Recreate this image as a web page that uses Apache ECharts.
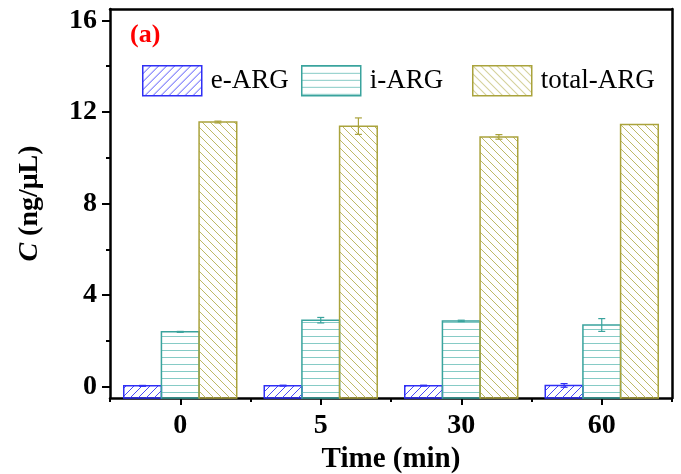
<!DOCTYPE html>
<html>
<head>
<meta charset="utf-8">
<script src="https://cdn.jsdelivr.net/npm/echarts@6/dist/echarts.min.js"></script>
<style>
html,body{margin:0;padding:0;background:#fff;}
#chart{width:681px;height:474px;}
</style>
</head>
<body>
<div id="chart"></div>
<script>
// ---- data ----
const categories = ['0', '5', '30', '60'];
const seriesNames = ['e-ARG', 'i-ARG', 'total-ARG'];
const eARG = [0.03, 0.04, 0.04, 0.05];
const eARG_err = [0.02, 0.02, 0.02, 0.08];
const iARG = [2.39, 2.90, 2.87, 2.69];
const iARG_err = [0.02, 0.12, 0.03, 0.28];
const totalARG = [11.56, 11.38, 10.91, 11.45];
const totalARG_err = [0.04, 0.36, 0.10, 0.00];
const yMajorTicks = [0, 4, 8, 12, 16];
const yMinorTicks = [2, 6, 10, 14];
const Y_MIN = -0.5, Y_MAX = 16.5;

// ---- styles ----
const FONT = '"Liberation Serif", "Times New Roman", serif';
const colors = ['#2f2ff5', '#3aa39d', '#aaa33c'];
const hatchColors = ['#4a4af8', '#86cbc6', '#bfb966'];

function makePattern(kind, color) {
  const c = document.createElement('canvas');
  const P = kind === 'h' ? 7 : 8;
  c.width = P; c.height = P;
  const g = c.getContext('2d');
  g.strokeStyle = color; g.lineWidth = 1;
  g.beginPath();
  if (kind === 'h') {
    g.moveTo(0, 0.5); g.lineTo(P, 0.5);
  } else if (kind === 'f') { // "/"
    g.moveTo(-1, P + 1); g.lineTo(P + 1, -1);
    g.moveTo(-1, 1); g.lineTo(1, -1);
    g.moveTo(P - 1, P + 1); g.lineTo(P + 1, P - 1);
  } else { // "\"
    g.moveTo(-1, -1); g.lineTo(P + 1, P + 1);
    g.moveTo(P - 1, -1); g.lineTo(P + 1, 1);
    g.moveTo(-1, P - 1); g.lineTo(1, P + 1);
  }
  g.stroke();
  return { image: c, repeat: 'repeat' };
}
const patterns = [makePattern('f', hatchColors[0]), makePattern('h', hatchColors[1]), makePattern('b', hatchColors[2])];

const values = [eARG, iARG, totalARG];
const errs = [eARG_err, iARG_err, totalARG_err];
const BAR_FRAC = 0.268;

function makeRender(si) {
  return function (params, api) {
    const cat = api.value(0), val = api.value(1), err = api.value(2);
    const top = api.coord([cat, val]);
    const base = api.coord([cat, Y_MIN]);
    const band = api.size([1, 0])[0];
    const w = band * BAR_FRAC;
    const cx = top[0] + (si - 1) * w;
    const eTop = api.coord([cat, val + err])[1];
    const eBot = api.coord([cat, val - err])[1];
    const col = colors[si];
    const children = [{
      type: 'rect',
      shape: { x: cx - w / 2, y: top[1], width: w, height: base[1] - top[1] },
      style: { fill: patterns[si], stroke: col, lineWidth: 1.5 }
    }];
    if (err > 0) {
      const cap = 3.5;
      children.push(
        { type: 'line', shape: { x1: cx, y1: eTop, x2: cx, y2: eBot }, style: { stroke: col, lineWidth: 1.2 } },
        { type: 'line', shape: { x1: cx - cap, y1: eTop, x2: cx + cap, y2: eTop }, style: { stroke: col, lineWidth: 1.2 } },
        { type: 'line', shape: { x1: cx - cap, y1: eBot, x2: cx + cap, y2: eBot }, style: { stroke: col, lineWidth: 1.2 } }
      );
    }
    return { type: 'group', children: children };
  };
}

const series = seriesNames.map((name, si) => ({
  name: name,
  type: 'custom',
  xAxisIndex: 0,
  yAxisIndex: 0,
  encode: { x: 0, y: 1 },
  itemStyle: { color: patterns[si], borderColor: colors[si], borderWidth: 1.5 },
  renderItem: makeRender(si),
  data: categories.map((c, i) => [i, values[si][i], errs[si][i]]),
  z: 2
}));

const legendLeft = [142, 301, 472];
const legends = seriesNames.map((name, si) => ({
  left: legendLeft[si],
  top: 65,
  padding: 0,
  itemWidth: 59,
  itemHeight: 30,
  selectedMode: false,
  data: [{ name: name, icon: 'rect' }],
  itemStyle: { color: patterns[si], borderColor: colors[si], borderWidth: 1.5 },
  textStyle: { fontFamily: FONT, fontSize: 27, color: '#000', padding: [0, 0, 0, 4] }
}));

const axisLineStyle = { color: '#000', width: 2.5 };

const option = {
  animation: false,
  backgroundColor: '#fff',
  title: {
    text: '(a)', left: 130, top: 22, padding: 0,
    textStyle: { color: '#ff0000', fontFamily: FONT, fontWeight: 'bold', fontSize: 26 }
  },
  legend: legends,
  grid: { left: 110, right: 9, top: 9, bottom: 76, containLabel: false, outerBoundsMode: 'none' },
  xAxis: [
    {
      type: 'category', data: categories, position: 'bottom',
      axisLine: { show: true, onZero: false, lineStyle: axisLineStyle },
      axisTick: { show: true, alignWithLabel: true, length: 7, lineStyle: { color: '#000', width: 2 } },
      axisLabel: { margin: 14, color: '#000', fontFamily: FONT, fontWeight: 'bold', fontSize: 28 },
      name: 'Time (min)', nameLocation: 'middle', nameGap: 46,
      nameTextStyle: { color: '#000', fontFamily: FONT, fontWeight: 'bold', fontSize: 29 },
      splitLine: { show: false }
    },
    {
      type: 'category', data: categories, position: 'bottom',
      axisLine: { show: false, onZero: false },
      axisTick: { show: true, length: 4, lineStyle: { color: '#000', width: 2 } },
      axisLabel: { show: false },
      splitLine: { show: false }
    },
    {
      type: 'category', data: categories, position: 'top',
      axisLine: { show: true, onZero: false, lineStyle: axisLineStyle },
      axisTick: { show: false }, axisLabel: { show: false }, splitLine: { show: false }
    }
  ],
  yAxis: [
    {
      type: 'value', min: Y_MIN, max: Y_MAX, position: 'left',
      axisLine: { show: true, onZero: false, lineStyle: axisLineStyle },
      axisTick: { show: true, customValues: yMajorTicks, length: 8, lineStyle: { color: '#000', width: 2 } },
      axisLabel: { customValues: yMajorTicks, margin: 13, color: '#000', fontFamily: FONT, fontWeight: 'bold', fontSize: 28 },
      splitLine: { show: false },
      name: '{it|C} (ng/μL)', nameLocation: 'middle', nameGap: 66,
      nameTextStyle: {
        color: '#000', fontFamily: FONT, fontWeight: 'bold', fontSize: 28,
        rich: { it: { fontStyle: 'italic', fontWeight: 'bold', fontFamily: FONT, fontSize: 28, color: '#000' } }
      }
    },
    {
      type: 'value', min: Y_MIN, max: Y_MAX, position: 'left',
      axisLine: { show: false, onZero: false },
      axisTick: { show: true, customValues: yMinorTicks, length: 4, lineStyle: { color: '#000', width: 2 } },
      axisLabel: { show: false }, splitLine: { show: false }
    },
    {
      type: 'value', min: Y_MIN, max: Y_MAX, position: 'right',
      axisLine: { show: true, onZero: false, lineStyle: axisLineStyle },
      axisTick: { show: false }, axisLabel: { show: false }, splitLine: { show: false }
    }
  ],
  series: series
};

const chart = echarts.init(document.getElementById('chart'), null, { renderer: 'canvas' });
chart.setOption(option);
</script>
</body>
</html>
